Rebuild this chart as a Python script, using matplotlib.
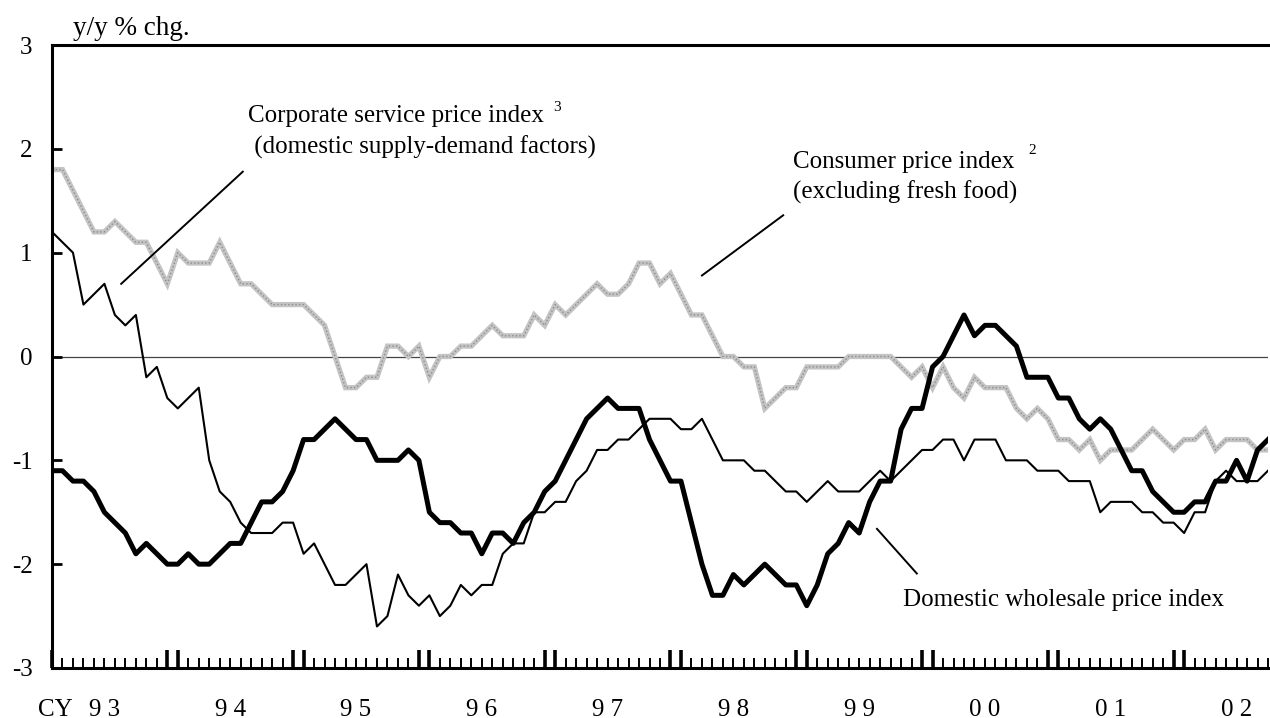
import numpy as np
import matplotlib.pyplot as plt

plt.rcParams['font.family'] = ['Liberation Serif', 'DejaVu Serif']

# monthly y/y % changes, Jan 1993 - Sep 2002
year_labels = ["9 3", "9 4", "9 5", "9 6", "9 7", "9 8", "9 9", "0 0", "0 1", "0 2"]

wpi = [-1.1, -1.1, -1.2, -1.2, -1.3, -1.5, -1.6, -1.7, -1.9, -1.8,
       -1.9, -2.0, -2.0, -1.9, -2.0, -2.0, -1.9, -1.8, -1.8, -1.6,
       -1.4, -1.4, -1.3, -1.1, -0.8, -0.8, -0.7, -0.6, -0.7, -0.8,
       -0.8, -1.0, -1.0, -1.0, -0.9, -1.0, -1.5, -1.6, -1.6, -1.7,
       -1.7, -1.9, -1.7, -1.7, -1.8, -1.6, -1.5, -1.3, -1.2, -1.0,
       -0.8, -0.6, -0.5, -0.4, -0.5, -0.5, -0.5, -0.8, -1.0, -1.2,
       -1.2, -1.6, -2.0, -2.3, -2.3, -2.1, -2.2, -2.1, -2.0, -2.1,
       -2.2, -2.2, -2.4, -2.2, -1.9, -1.8, -1.6, -1.7, -1.4, -1.2,
       -1.2, -0.7, -0.5, -0.5, -0.1, 0.0, 0.2, 0.4, 0.2, 0.3,
       0.3, 0.2, 0.1, -0.2, -0.2, -0.2, -0.4, -0.4, -0.6, -0.7,
       -0.6, -0.7, -0.9, -1.1, -1.1, -1.3, -1.4, -1.5, -1.5, -1.4,
       -1.4, -1.2, -1.2, -1.0, -1.2, -0.9, -0.8]

cspi = [1.2, 1.1, 1.0, 0.5, 0.6, 0.7, 0.4, 0.3, 0.4, -0.2,
        -0.1, -0.4, -0.5, -0.4, -0.3, -1.0, -1.3, -1.4, -1.6, -1.7,
        -1.7, -1.7, -1.6, -1.6, -1.9, -1.8, -2.0, -2.2, -2.2, -2.1,
        -2.0, -2.6, -2.5, -2.1, -2.3, -2.4, -2.3, -2.5, -2.4, -2.2,
        -2.3, -2.2, -2.2, -1.9, -1.8, -1.8, -1.5, -1.5, -1.4, -1.4,
        -1.2, -1.1, -0.9, -0.9, -0.8, -0.8, -0.7, -0.6, -0.6, -0.6,
        -0.7, -0.7, -0.6, -0.8, -1.0, -1.0, -1.0, -1.1, -1.1, -1.2,
        -1.3, -1.3, -1.4, -1.3, -1.2, -1.3, -1.3, -1.3, -1.2, -1.1,
        -1.2, -1.1, -1.0, -0.9, -0.9, -0.8, -0.8, -1.0, -0.8, -0.8,
        -0.8, -1.0, -1.0, -1.0, -1.1, -1.1, -1.1, -1.2, -1.2, -1.2,
        -1.5, -1.4, -1.4, -1.4, -1.5, -1.5, -1.6, -1.6, -1.7, -1.5,
        -1.5, -1.2, -1.1, -1.2, -1.2, -1.2, -1.1]

cpi = [1.8, 1.8, 1.6, 1.4, 1.2, 1.2, 1.3, 1.2, 1.1, 1.1,
       0.9, 0.7, 1.0, 0.9, 0.9, 0.9, 1.1, 0.9, 0.7, 0.7,
       0.6, 0.5, 0.5, 0.5, 0.5, 0.4, 0.3, 0.0, -0.3, -0.3,
       -0.2, -0.2, 0.1, 0.1, 0.0, 0.1, -0.2, 0.0, 0.0, 0.1,
       0.1, 0.2, 0.3, 0.2, 0.2, 0.2, 0.4, 0.3, 0.5, 0.4,
       0.5, 0.6, 0.7, 0.6, 0.6, 0.7, 0.9, 0.9, 0.7, 0.8,
       0.6, 0.4, 0.4, 0.2, 0.0, 0.0, -0.1, -0.1, -0.5, -0.4,
       -0.3, -0.3, -0.1, -0.1, -0.1, -0.1, 0.0, 0.0, 0.0, 0.0,
       0.0, -0.1, -0.2, -0.1, -0.3, -0.1, -0.3, -0.4, -0.2, -0.3,
       -0.3, -0.3, -0.5, -0.6, -0.5, -0.6, -0.8, -0.8, -0.9, -0.8,
       -1.0, -0.9, -0.9, -0.9, -0.8, -0.7, -0.8, -0.9, -0.8, -0.8,
       -0.7, -0.9, -0.8, -0.8, -0.8, -0.9, -0.9]

months = np.arange(len(wpi))

fig = plt.figure(figsize=(12.7, 7.18), dpi=100)
ax = fig.add_axes([52 / 1270, 1 - 668 / 718, 1216 / 1270, 623 / 718])

ax.axhline(0, color="#444444", lw=0.9, zorder=1)

# CPI drawn as a light textured band
ax.plot(months, cpi, color="#c4c4c4", lw=3.8, solid_joinstyle="miter", zorder=2)
ax.plot(months, cpi, color="#8c8c8c", lw=1.0, ls=(0, (1, 1.6)), zorder=2)
ax.plot(months, cspi, color="black", lw=1.5, zorder=3)
ax.plot(months, wpi, color="black", lw=3.6, zorder=4)

ax.set_xlim(0, len(wpi) - 1)
ax.set_ylim(-3, 3)

for s in ["left", "top", "bottom"]:
    ax.spines[s].set_linewidth(2.2)
ax.spines["right"].set_visible(False)

ax.set_yticks([-3, -2, -1, 0, 1, 2, 3])
ax.set_yticklabels(["-3", "-2", "-1", "0", "1", "2", "3"])
ax.tick_params(axis="y", direction="in", length=7.5, width=2, pad=14, labelsize=18)

# month ticks, with heavier marks at each Dec/Jan
ax.set_xticks([m for m in months if m % 12 in (0, 11)])
ax.set_xticklabels([])
ax.set_xticks(months, minor=True)
ax.tick_params(axis="x", which="major", direction="in", length=13, width=2.6)
ax.tick_params(axis="x", which="minor", direction="in", length=7, width=1.4)

for k, lab in enumerate(year_labels):
    ax.text(12 * k + 5, -3.40, lab, ha="center", va="center", fontsize=18, clip_on=False)
ax.text(2.0, -3.40, "CY", ha="right", va="center", fontsize=18, clip_on=False)

fig.text(73 / 1270, 1 - 35 / 718, "y/y % chg.", ha="left", va="baseline", fontsize=19.5)

# series labels and pointer lines
ax.text(18.7, 2.26, "Corporate service price index", fontsize=18, va="baseline")
ax.text(18.7, 1.95, " (domestic supply-demand factors)", fontsize=18, va="baseline")
ax.text(47.8, 2.4, "3", fontsize=11, va="center")
ax.plot([6.6, 18.2], [0.70, 1.78], color="black", lw=1.4)

ax.text(70.7, 1.82, "Consumer price index", fontsize=18, va="baseline")
ax.text(70.7, 1.52, "(excluding fresh food)", fontsize=18, va="baseline")
ax.text(93.1, 1.98, "2", fontsize=11, va="center")
ax.plot([62.0, 69.75], [0.78, 1.36], color="black", lw=1.4)

ax.text(81.2, -2.4, "Domestic wholesale price index", fontsize=18, va="baseline")
ax.plot([78.7, 82.5], [-1.66, -2.09], color="black", lw=1.4)

fig.savefig("out.png", dpi=100)
